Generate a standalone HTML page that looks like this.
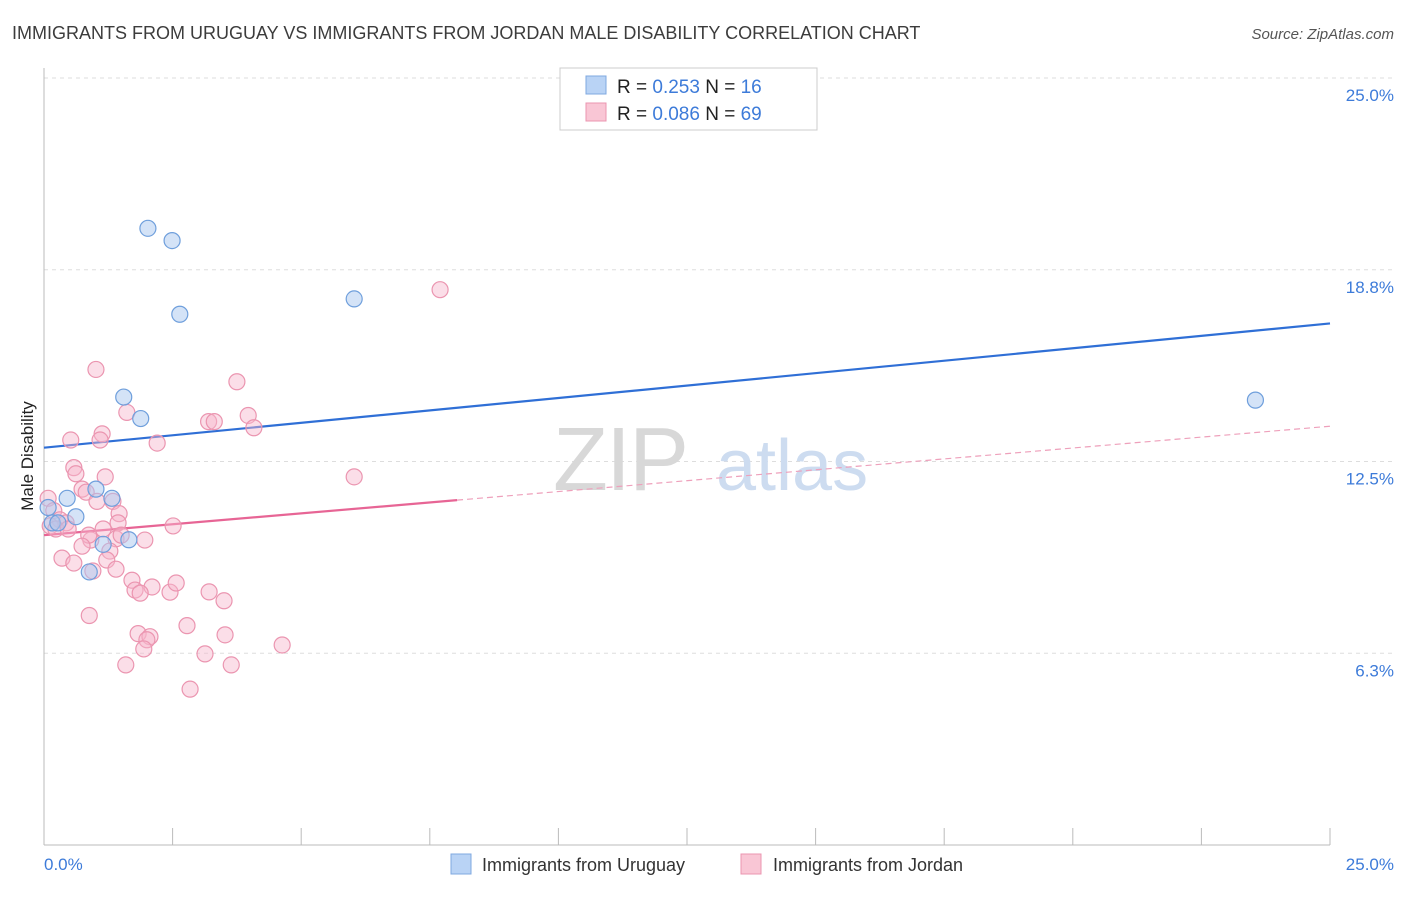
<!DOCTYPE html>
<html><head><meta charset="utf-8">
<style>
body{margin:0;background:#fff;font-family:"Liberation Sans",sans-serif;}
svg text{font-family:"Liberation Sans",sans-serif;}
</style></head><body>
<svg id="chart" width="1406" height="892" xmlns="http://www.w3.org/2000/svg">
<text x="12" y="39" font-size="18" fill="#3c3c3c">IMMIGRANTS FROM URUGUAY VS IMMIGRANTS FROM JORDAN MALE DISABILITY CORRELATION CHART</text>
<text x="1394" y="39" font-size="15" fill="#555" text-anchor="end" font-style="italic">Source: ZipAtlas.com</text>
<g id="grid"></g>
<g>
<text x="553" y="490" font-size="90" fill="#d8d8d8" font-family="Liberation Serif" letter-spacing="-2">ZIP</text>
<text x="716" y="490" font-size="72" fill="#cddcf0">atlas</text>
</g>
<line x1="44" y1="845" x2="1330" y2="845" stroke="#bbb"/>
<line x1="44" y1="68" x2="44" y2="845" stroke="#bbb"/>
<text transform="translate(33,456) rotate(-90)" font-size="17" fill="#222" text-anchor="middle">Male Disability</text>
<text x="44" y="870" font-size="17" fill="#3d7bd9">0.0%</text>
<text x="1394" y="870" font-size="17" fill="#3d7bd9" text-anchor="end">25.0%</text>
<g id="lines"></g>
<g id="points"></g>
<g>
<rect x="560" y="68" width="257" height="62" fill="#fff" stroke="#ccc"/>
<rect x="586" y="76" width="20" height="18" fill="#b9d3f5" stroke="#7fa8e0"/>
<rect x="586" y="103" width="20" height="18" fill="#f9c6d5" stroke="#eb95b0"/>
<text x="617" y="93" font-size="19" fill="#222">R = <tspan fill="#3d7bd9">0.253</tspan>   N = <tspan fill="#3d7bd9">16</tspan></text>
<text x="617" y="120" font-size="19" fill="#222">R = <tspan fill="#3d7bd9">0.086</tspan>   N = <tspan fill="#3d7bd9">69</tspan></text>
</g>
<g>
<rect x="451" y="854" width="20" height="20" fill="#b9d3f5" stroke="#7fa8e0"/>
<text x="482" y="871" font-size="18" fill="#333">Immigrants from Uruguay</text>
<rect x="741" y="854" width="20" height="20" fill="#f9c6d5" stroke="#eb95b0"/>
<text x="773" y="871" font-size="18" fill="#333">Immigrants from Jordan</text>
</g>
</svg>
<script>
const yTicks=[6.25,12.5,18.75,25];
const yTickLabels=["6.3%","12.5%","18.8%","25.0%"];
const xTicks=[0,2.5,5,7.5,10,12.5,15,17.5,20,22.5,25];
const uruguayX=[2.02,2.49,2.64,6.03,1.55,1.88,23.55,0.45,1.01,1.32,0.62,0.16,0.27,1.15,1.65,0.88,0.08];
const uruguayY=[20.1,19.7,17.3,17.8,14.6,13.9,14.5,11.3,11.6,11.3,10.7,10.5,10.5,9.8,9.95,8.9,11.0];
const jordanX=[7.7,1.01,3.75,1.61,3.97,3.2,3.31,4.08,0.52,1.13,1.09,2.2,6.03,0.58,0.62,1.19,0.74,0.82,1.34,1.03,0.08,0.19,0.31,0.43,0.12,0.23,0.47,1.46,1.44,1.15,2.51,1.96,0.91,0.87,1.4,1.5,0.74,1.28,0.35,0.58,1.22,0.95,1.4,1.71,2.1,1.77,1.87,2.45,2.57,3.21,3.5,0.88,2.78,1.83,2.06,2.0,3.52,1.94,4.63,3.13,1.59,3.64,2.84];
const jordanY=[18.1,15.5,15.1,14.1,14.0,13.8,13.8,13.6,13.2,13.4,13.2,13.1,12.0,12.3,12.1,12.0,11.6,11.5,11.2,11.2,11.3,10.9,10.6,10.5,10.4,10.3,10.3,10.8,10.5,10.3,10.4,9.94,9.94,10.1,9.98,10.1,9.74,9.58,9.35,9.19,9.29,8.93,8.99,8.63,8.41,8.31,8.21,8.24,8.54,8.25,7.96,7.48,7.15,6.89,6.79,6.69,6.85,6.39,6.52,6.23,5.87,5.87,5.08];
const uruguayTrend=[12.95,17.0];
const jordanTrend=[10.1,13.65];
const jordanSolidEnd=8.03;
const NS="http://www.w3.org/2000/svg";
function xs(v){return 44+v/25*1286;}
function ys(v){return 845-v/25*767;}
function mk(tag,attrs,parent){const e=document.createElementNS(NS,tag);for(const k in attrs)e.setAttribute(k,attrs[k]);parent.appendChild(e);return e;}
const grid=document.getElementById('grid');
yTicks.forEach((t,i)=>{
  const l=mk('line',{x1:44,x2:1394,y1:ys(t),y2:ys(t),stroke:'#ddd','stroke-dasharray':'4,4'},grid);
  
  
  const tx=mk('text',{x:1394,y:ys(t)+23,'font-size':17,fill:'#3d7bd9','text-anchor':'end'},grid);
  tx.textContent=yTickLabels[i];
  
  
});
xTicks.forEach(t=>{
  const l=mk('line',{x1:xs(t),x2:xs(t),y1:828,y2:845,stroke:'#bbb'},grid);
  
  
});
const pts=document.getElementById('points');
jordanX.forEach((x,i)=>{
  const c=mk('circle',{cx:xs(x),cy:ys(jordanY[i]),r:8,fill:'rgba(247,182,203,0.45)',stroke:'#eb95b0','stroke-width':1.2},pts);
  
  
});
uruguayX.forEach((x,i)=>{
  const c=mk('circle',{cx:xs(x),cy:ys(uruguayY[i]),r:8,fill:'rgba(170,200,240,0.5)',stroke:'#6f9fdc','stroke-width':1.2},pts);
  
  
});
const lines=document.getElementById('lines');
const jy=x=>jordanTrend[0]+(jordanTrend[1]-jordanTrend[0])*x/25;
let l1=mk('line',{x1:xs(0),y1:ys(uruguayTrend[0]),x2:xs(25),y2:ys(uruguayTrend[1]),stroke:'#2f6fd6','stroke-width':2.2},lines);


let l2=mk('line',{x1:xs(0),y1:ys(jy(0)),x2:xs(jordanSolidEnd),y2:ys(jy(jordanSolidEnd)),stroke:'#e76595','stroke-width':2.2},lines);


let l3=mk('line',{x1:xs(jordanSolidEnd),y1:ys(jy(jordanSolidEnd)),x2:xs(25),y2:ys(jy(25)),stroke:'#eea0bb','stroke-width':1.2,'stroke-dasharray':'6,4'},lines);


</script>
</body></html>
